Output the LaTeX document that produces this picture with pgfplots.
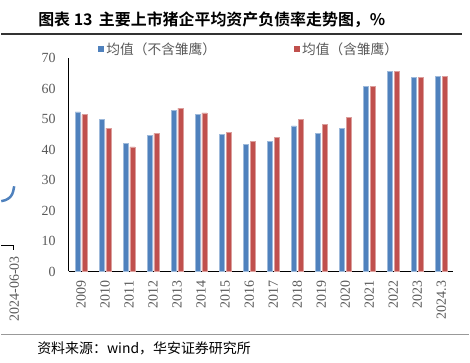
\documentclass[border=0pt]{standalone}
\usepackage{fontspec}
\setmainfont{Liberation Serif}
\newfontfamily\cjk{Noto Sans CJK SC}
\newfontfamily\cjkb{Noto Sans CJK SC Bold}
\usepackage{pgfplots}
\pgfplotsset{compat=1.18}
\definecolor{cblue}{HTML}{4F81BD}
\definecolor{cred}{HTML}{C0504D}
\definecolor{tgray}{HTML}{595959}
\pgfplotstableread{
x blue red
0 52.4 51.5
1 49.9 47.1
2 42.1 40.9
3 44.8 45.3
4 52.9 53.6
5 51.6 52.1
6 45.1 45.6
7 41.8 42.8
8 42.6 44.0
9 47.8 49.9
10 45.4 48.3
11 47.0 50.6
12 60.7 60.7
13 65.7 65.7
14 63.8 63.8
15 64.0 64.0
}\datatable
\begin{document}
\begin{tikzpicture}
\path (0,0) rectangle (470pt,-364pt);
\begin{axis}[
  at={(68pt,-272.5pt)}, anchor=south west, scale only axis,
  width=386pt, height=214pt,
  xmin=-0.5, xmax=15.5, ymin=0, ymax=70,
  ytick={0,10,...,70},
  xtick={0,...,15},
  xticklabels={2009,2010,2011,2012,2013,2014,2015,2016,2017,2018,2019,2020,2021,2022,2023,2024.3},
  major tick length=0pt,
  axis x line*=bottom, axis y line*=left,
  axis line style={black, line width=1pt},
  /pgf/number format/assume math mode=true,
  ticklabel style={font=\fontsize{14}{14}\selectfont, text=tgray},
  x tick label style={rotate=90, anchor=east},
  xticklabel shift=6pt,
  yticklabel shift=10pt,
  ybar, bar width=5pt,
  legend columns=2,
  legend style={at={(rel axis cs:0.075,1.044)}, anchor=west, draw=none, fill=none,
    font=\cjk\fontsize{13.75}{14}\selectfont, text=tgray, inner sep=0pt,
    /tikz/every even column/.append style={column sep=76pt}},
  sqleg/.style={legend image code/.code={\fill[##1, draw=none] (0pt,-3.2pt) rectangle (6.5pt,3.3pt);}},
]
\addplot[fill=cblue, draw=cblue!55!white, line width=0.5pt, bar shift=-3.35pt, sqleg] table[x=x, y=blue] {\datatable};
\addlegendentry{均值（不含雏鹰）}
\addplot[fill=cred, draw=cred!55!white, line width=0.5pt, bar shift=3.35pt, sqleg] table[x=x, y=red] {\datatable};
\addlegendentry{均值（含雏鹰）}
\end{axis}
\node[anchor=west, inner sep=0pt, font=\cjkb\fontsize{16}{16}\selectfont] at (37pt,-20pt) {图表 13\hspace{0.4em}主要上市猪企平均资产负债率走势图，\%};
\draw[line width=1.3pt, color=black!80] (0,-34pt) -- (463pt,-34pt);
\draw[line width=1.2pt, color=black!40] (0,-336pt) -- (470pt,-336pt);
\node[anchor=west, inner sep=0pt, font=\cjk\fontsize{14}{14}\selectfont] at (36pt,-350pt) {资料来源：wind，华安证券研究所};
\node[rotate=90, anchor=east, inner sep=0pt, text=tgray, font=\fontsize{14}{14}\selectfont] at (13pt,-257pt) {2024-06-03};
\draw[black, line width=1pt] (0,-246pt) -- (12pt,-246pt) -- (12pt,-251pt);
\draw[cblue, line width=2.5pt] (0,-202pt) -- (4pt,-201pt) .. controls (9pt,-199pt) and (11pt,-196pt) .. (12pt,-192pt) -- (13pt,-187pt);
\end{tikzpicture}
\end{document}
